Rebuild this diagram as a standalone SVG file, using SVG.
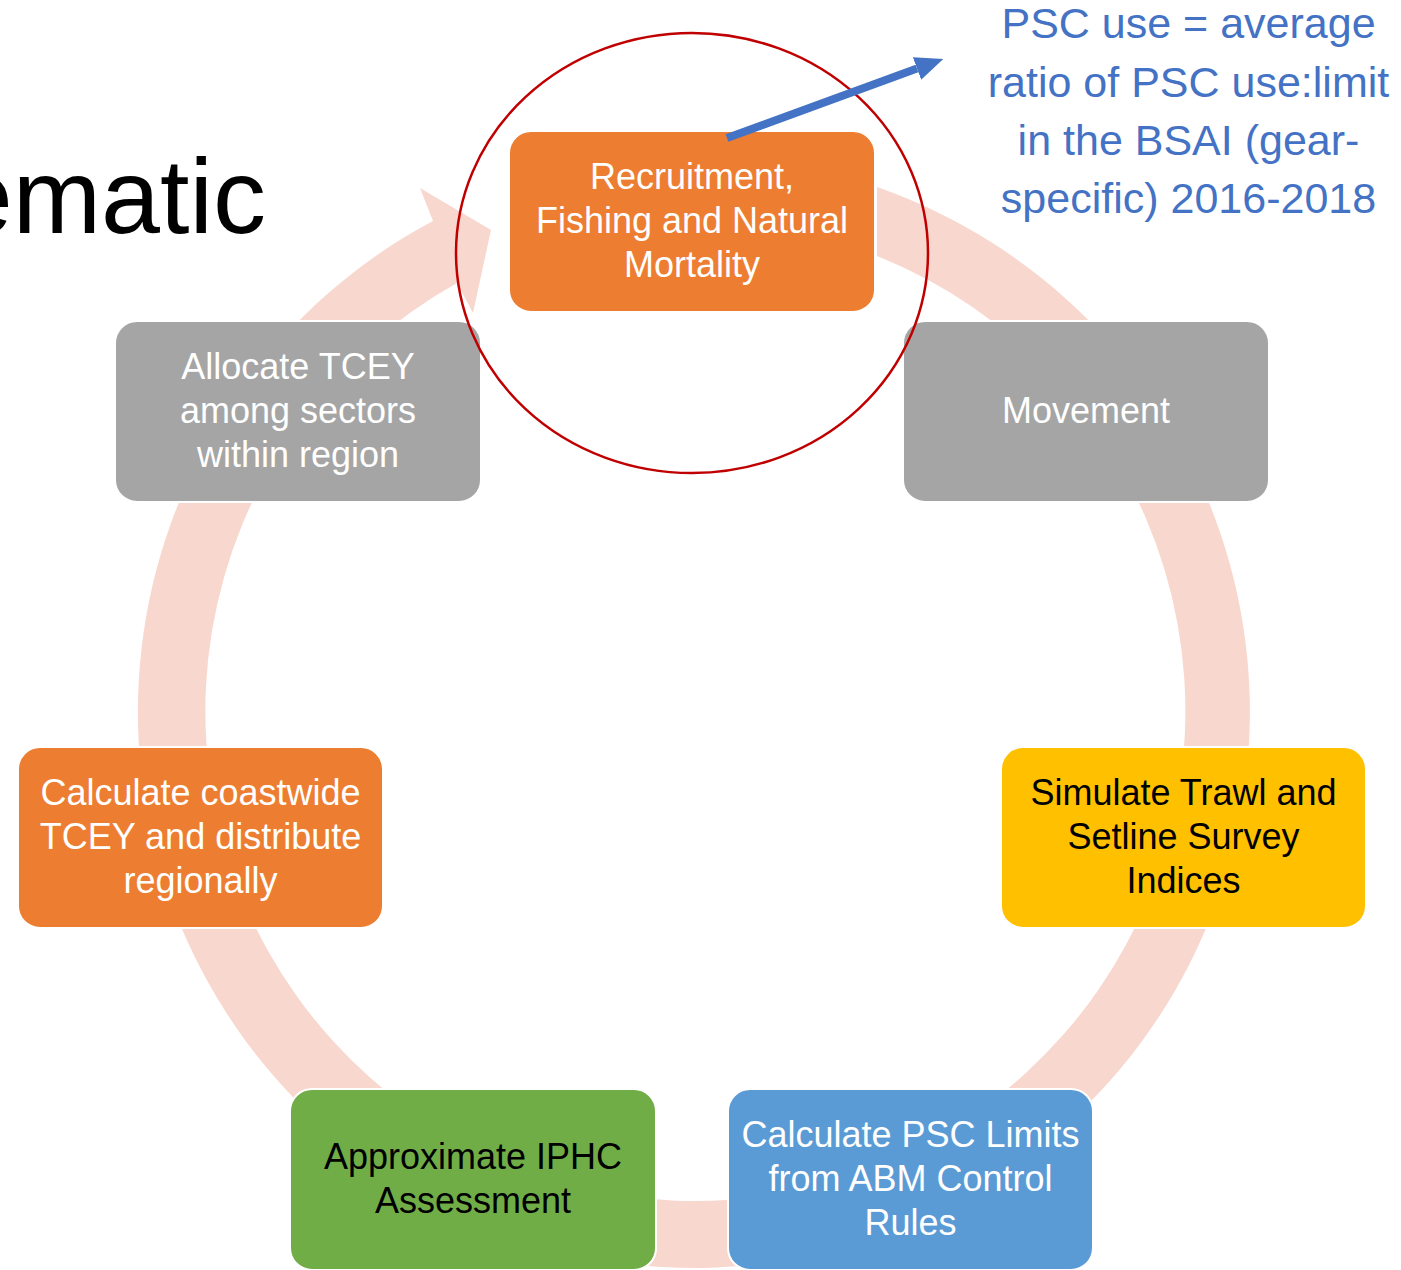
<svg xmlns="http://www.w3.org/2000/svg" width="1401" height="1270" viewBox="0 0 1401 1270">
<defs>
<style>
.node rect { stroke: #FFFFFF; stroke-width: 2; }
.lbl { font-family: "Liberation Sans", Arial, sans-serif; font-size: 36px; text-anchor: middle; }
.w { fill: #FFFFFF; }
.k { fill: #000000; }
.note { font-family: "Liberation Sans", Arial, sans-serif; font-size: 43px; fill: #4472C4; text-anchor: middle; }
.title { font-family: "Liberation Sans", Arial, sans-serif; font-size: 106px; fill: #000000; text-anchor: end; }
</style>
<marker id="blueHead" markerUnits="userSpaceOnUse" markerWidth="28" markerHeight="24" refX="0" refY="12" orient="auto">
<path d="M0,0 L28,12 L0,24 Z" fill="#4472C4"/>
</marker>
</defs>
<rect x="0" y="0" width="1401" height="1270" fill="#FFFFFF"/>
<text class="title" x="266" y="233">ematic</text>
<g id="connectors">
<path id="cycle-ring" d="M877,187 A556,556 0 1 1 433,221 L420,188 L491,230 L473,313 L457,283 A490,490 0 1 0 877,256 Z" fill="#F8D8CE"/>
</g>
<g id="node-recruitment" class="node">
<rect x="509" y="131" width="366" height="181" rx="22" fill="#ED7D31"/>
<text class="lbl w" x="692" y="188.5">Recruitment,</text>
<text class="lbl w" x="692" y="232.5">Fishing and Natural</text>
<text class="lbl w" x="692" y="276.5">Mortality</text>
</g>
<g id="node-movement" class="node">
<rect x="903" y="321" width="366" height="181" rx="22" fill="#A5A5A5"/>
<text class="lbl w" x="1086" y="422.5">Movement</text>
</g>
<g id="node-simulate" class="node">
<rect x="1001" y="747" width="365" height="181" rx="22" fill="#FFC000"/>
<text class="lbl k" x="1183.5" y="804.5">Simulate Trawl and</text>
<text class="lbl k" x="1183.5" y="848.5">Setline Survey</text>
<text class="lbl k" x="1183.5" y="892.5">Indices</text>
</g>
<g id="node-psc" class="node">
<rect x="728" y="1089" width="365" height="181" rx="22" fill="#5B9BD5"/>
<text class="lbl w" x="910.5" y="1146.5">Calculate PSC Limits</text>
<text class="lbl w" x="910.5" y="1190.5">from ABM Control</text>
<text class="lbl w" x="910.5" y="1234.5">Rules</text>
</g>
<g id="node-iphc" class="node">
<rect x="290" y="1089" width="366" height="181" rx="22" fill="#70AD47"/>
<text class="lbl k" x="473" y="1168.5">Approximate IPHC</text>
<text class="lbl k" x="473" y="1212.5">Assessment</text>
</g>
<g id="node-coastwide" class="node">
<rect x="18" y="747" width="365" height="181" rx="22" fill="#ED7D31"/>
<text class="lbl w" x="200.5" y="804.5">Calculate coastwide</text>
<text class="lbl w" x="200.5" y="848.5">TCEY and distribute</text>
<text class="lbl w" x="200.5" y="892.5">regionally</text>
</g>
<g id="node-allocate" class="node">
<rect x="115" y="321" width="366" height="181" rx="22" fill="#A5A5A5"/>
<text class="lbl w" x="298" y="378.5">Allocate TCEY</text>
<text class="lbl w" x="298" y="422.5">among sectors</text>
<text class="lbl w" x="298" y="466.5">within region</text>
</g>
<g id="annotation">
<ellipse cx="692" cy="253" rx="236" ry="220" fill="none" stroke="#C00000" stroke-width="2.5"/>
</g>
<g id="connectors-annotation">
<line x1="727" y1="138" x2="917" y2="68.5" stroke="#4472C4" stroke-width="8" marker-end="url(#blueHead)"/>
</g>
<g id="note">
<text class="note" x="1188.5" y="38">PSC use = average</text>
<text class="note" x="1188.5" y="97">ratio of PSC use:limit</text>
<text class="note" x="1188.5" y="155">in the BSAI (gear-</text>
<text class="note" x="1188.5" y="213">specific) 2016-2018</text>
</g>
</svg>
